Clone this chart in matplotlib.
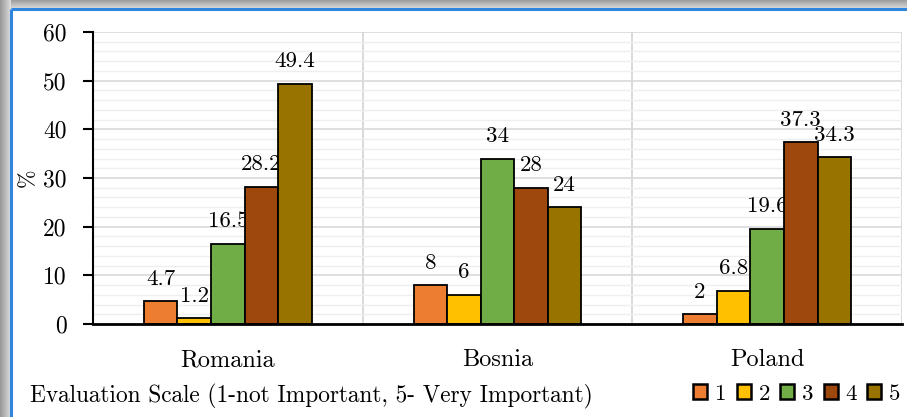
import numpy as np
import matplotlib
matplotlib.use("Agg")
import matplotlib.pyplot as plt
from matplotlib.patches import Rectangle, Patch

countries = ["Romania", "Bosnia", "Poland"]
scale_levels = ["1", "2", "3", "4", "5"]
# share of respondents (%) per rating level, one list per level
level_1 = [4.7, 8, 2]
level_2 = [1.2, 6, 6.8]
level_3 = [16.5, 34, 19.6]
level_4 = [28.2, 28, 37.3]
level_5 = [49.4, 24, 34.3]
series = [level_1, level_2, level_3, level_4, level_5]
colors = ["#ED7D31", "#FFC000", "#70AD47", "#9E480E", "#997300"]
y_ticks = [0, 10, 20, 30, 40, 50, 60]

plt.rcParams["font.family"] = ["cmr10", "DejaVu Serif"]
plt.rcParams["axes.formatter.use_mathtext"] = True

W, H = 907, 417
fig = plt.figure(figsize=(W / 100, H / 100), dpi=100)

# frame with a soft grey shadow on the top and left edges
bg = fig.add_axes([0, 0, 1, 1], zorder=-10)
bg.axis("off")
grad_top = np.linspace(0.62, 0.86, 9).reshape(-1, 1)
bg.imshow(np.repeat(grad_top, 2, axis=1), cmap="gray", vmin=0, vmax=1,
          extent=[0, W, 9, 0], aspect="auto", interpolation="bilinear")
grad_left = np.linspace(0.60, 0.86, 11).reshape(1, -1)
bg.imshow(np.repeat(grad_left, 2, axis=0), cmap="gray", vmin=0, vmax=1,
          extent=[0, 11, H, 0], aspect="auto", interpolation="bilinear")
bg.add_patch(Rectangle((11, 9), W - 11, H - 9, facecolor="white", edgecolor="none"))
bg.plot([10.5, W], [8.5, 8.5], color="#2E86DE", lw=2.2, solid_capstyle="butt")
bg.plot([10.5, 10.5], [8.5, H], color="#2E86DE", lw=2.2, solid_capstyle="butt")
bg.set_xlim(0, W)
bg.set_ylim(H, 0)

ax = fig.add_axes([93 / W, 1 - 324 / H, (902 - 93) / W, (324 - 32) / H])
ax.set_facecolor("none")

x = np.arange(len(countries))
bw = 0.1245
for i, (vals, c) in enumerate(zip(series, colors)):
    pos = x + (i - 2) * bw
    bars = ax.bar(pos, vals, width=bw, color=c, edgecolor="black", linewidth=1.3, zorder=3)
    for b, v in zip(bars, vals):
        ax.annotate(f"{v:g}", (b.get_x() + b.get_width() / 2, v), xytext=(0, 9),
                    textcoords="offset points", ha="center", va="bottom", fontsize=16.5)

ax.set_xlim(-0.5, 2.5)
ax.set_ylim(0, 60)
ax.set_yticks(y_ticks)
ax.set_yticks(np.arange(0, 61, 2), minor=True)
ax.set_yticklabels([str(t) for t in y_ticks], fontsize=17)
ax.tick_params(axis="y", which="major", direction="out", length=7, width=1.5, pad=12)
ax.tick_params(axis="y", which="minor", length=0)
ax.set_xticks(x)
ax.set_xticklabels(countries, fontsize=17.5)
ax.tick_params(axis="x", length=0, pad=18)

ax.grid(axis="y", which="major", color="#D9D9D9", lw=1.2, zorder=0)
ax.grid(axis="y", which="minor", color="#EFEFEF", lw=1.0, zorder=0)
for xb in [0.5, 1.5, 2.5]:
    ax.axvline(xb, color="#D9D9D9", lw=1.4, zorder=1)

for s in ["top", "right"]:
    ax.spines[s].set_visible(False)
ax.spines["left"].set_linewidth(1.5)
ax.spines["bottom"].set_linewidth(2)
ax.spines["bottom"].set_zorder(4)

ax.set_ylabel("%", fontsize=16, labelpad=4)

fig.text(30 / W, 1 - 396 / H, "Evaluation Scale (1-not Important, 5- Very Important)",
         fontsize=16.8, ha="left", va="center")

handles = [Patch(facecolor=c, edgecolor="black", linewidth=1.8) for c in colors]
fig.legend(handles, scale_levels, loc="center right", bbox_to_anchor=(1.003, 1 - 394 / H),
           ncol=5, frameon=False, fontsize=16.5, handlelength=0.6, handleheight=0.6,
           handletextpad=0.35, columnspacing=0.45, borderaxespad=0.0)

fig.savefig("out.png", dpi=100)
